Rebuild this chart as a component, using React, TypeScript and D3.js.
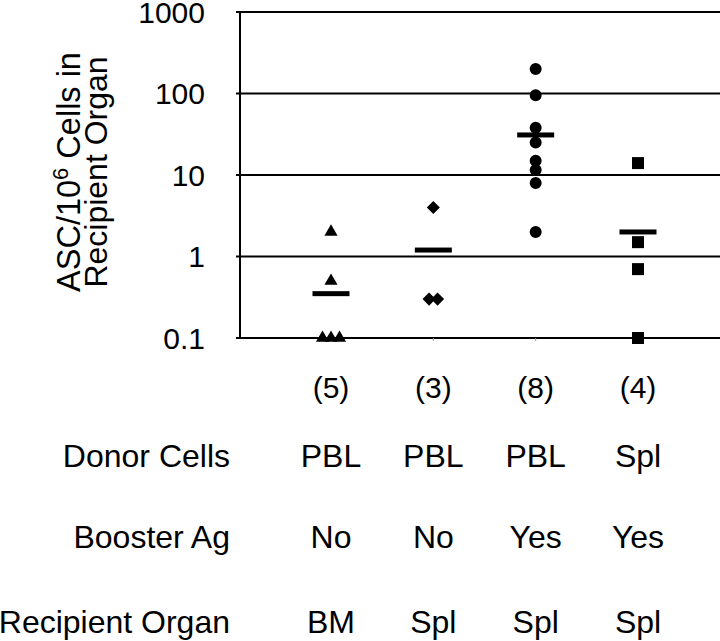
import React from "react";
import * as d3 from "d3";

const groupLabels = ["(5)", "(3)", "(8)", "(4)"];
const donorCells = ["PBL", "PBL", "PBL", "Spl"];
const boosterAg = ["No", "No", "Yes", "Yes"];
const recipientOrgan = ["BM", "Spl", "Spl", "Spl"];
const rowTitles = ["Donor Cells", "Booster Ag", "Recipient Organ"];
const yTicks = [0.1, 1, 10, 100, 1000];
const yTickLabels = ["0.1", "1", "10", "100", "1000"];

const pblBmValues = [2, 0.5, 0.1, 0.1, 0.1];
const pblSplValues = [4, 0.3, 0.3];
const pblSplBoostValues = [200, 95, 38, 25, 15, 11.5, 8, 2];
const splSplBoostValues = [14, 1.5, 0.7, 0.1];
const groupMeans = [0.35, 1.2, 31, 2.0];

const groupValues = [pblBmValues, pblSplValues, pblSplBoostValues, splSplBoostValues];
const groupSymbols = ["triangle", "diamond", "circle", "square"];

const W = 720;
const H = 641;
const FONT = "'Liberation Sans', Arial, Helvetica, sans-serif";

export default function App() {
  const y = d3.scaleLog().domain([0.1, 1000]).range([338, 12]);
  const x = d3.scalePoint<string>().domain(groupLabels).range([331, 638]);
  const axisX = 240;
  const rightX = 720;

  const symbolPath = (kind: string) => {
    if (kind === "triangle") return d3.symbol(d3.symbolTriangle, 75)() as string;
    if (kind === "diamond") return d3.symbol(d3.symbolSquare, 85)() as string;
    if (kind === "circle") return d3.symbol(d3.symbolCircle, 113)() as string;
    return d3.symbol(d3.symbolSquare, 144)() as string;
  };

  const points: { cx: number; cy: number; kind: string }[] = [];
  groupValues.forEach((vals, gi) => {
    const cx0 = x(groupLabels[gi]) as number;
    const counts = d3.rollup(vals, (v) => v.length, (d) => d);
    const seen = new Map<number, number>();
    vals.forEach((v) => {
      const n = counts.get(v) || 1;
      const k = seen.get(v) || 0;
      seen.set(v, k + 1);
      const spread = 8.5;
      const dx = (k - (n - 1) / 2) * spread;
      points.push({ cx: cx0 + dx, cy: y(v), kind: groupSymbols[gi] });
    });
  });

  const rows = [donorCells, boosterAg, recipientOrgan];
  const rowY = [467, 548, 633];

  return (
    <svg width={W} height={H} style={{ position: "absolute", left: 0, top: 0, background: "#fff" }} fontFamily={FONT}>
      <rect x={0} y={0} width={W} height={H} fill="#fff" />
      {/* gridlines */}
      {yTicks.map((t) => (
        <line key={"g" + t} x1={axisX} x2={rightX} y1={y(t)} y2={y(t)} stroke="#000" strokeWidth={2} />
      ))}
      {/* y axis */}
      <line x1={axisX} x2={axisX} y1={y(1000)} y2={y(0.1)} stroke="#000" strokeWidth={2} />
      {yTicks.map((t) => (
        <line key={"t" + t} x1={axisX - 4} x2={axisX} y1={y(t)} y2={y(t)} stroke="#000" strokeWidth={2} />
      ))}
      {groupLabels.slice(1, 3).map((g) => (
        <line key={"xt" + g} x1={x(g)} x2={x(g)} y1={y(0.1)} y2={y(0.1) + 3} stroke="#999" strokeWidth={1} />
      ))}
      {yTicks.map((t, i) => (
        <text key={"l" + t} x={205} y={y(t) + 10.5} textAnchor="end" fontSize={30} fill="#000">
          {yTickLabels[i]}
        </text>
      ))}
      {/* y title */}
      <g transform="rotate(-90)">
        <text x={-172} y={80} textAnchor="middle" fontSize={32.5} fill="#000">
          ASC/10<tspan dy={-12} fontSize={22}>6</tspan>
          <tspan dy={12}> Cells in</tspan>
        </text>
        <text x={-172} y={107} textAnchor="middle" fontSize={32} fill="#000">
          Recipient Organ
        </text>
      </g>
      {/* mean bars */}
      {groupMeans.map((m, i) => (
        <rect key={"m" + i} x={(x(groupLabels[i]) as number) - 18.5} y={y(m) - 2.5} width={37} height={5} fill="#000" />
      ))}
      {/* points */}
      {points.map((p, i) => (
        <path
          key={"p" + i}
          d={symbolPath(p.kind)}
          transform={`translate(${p.cx},${p.cy})${p.kind === "diamond" ? " rotate(45)" : ""}`}
          fill="#000"
        />
      ))}
      {/* group n labels */}
      {groupLabels.map((g) => (
        <text key={"n" + g} x={x(g)} y={398} textAnchor="middle" fontSize={30} fill="#000">
          {g}
        </text>
      ))}
      {/* row titles */}
      {rowTitles.map((r, i) => (
        <text key={"r" + r} x={230} y={rowY[i]} textAnchor="end" fontSize={32} fill="#000">
          {r}
        </text>
      ))}
      {rows.map((row, ri) =>
        row.map((v, ci) => (
          <text key={"c" + ri + ci} x={x(groupLabels[ci])} y={rowY[ri]} textAnchor="middle" fontSize={32} fill="#000">
            {v}
          </text>
        ))
      )}
    </svg>
  );
}
